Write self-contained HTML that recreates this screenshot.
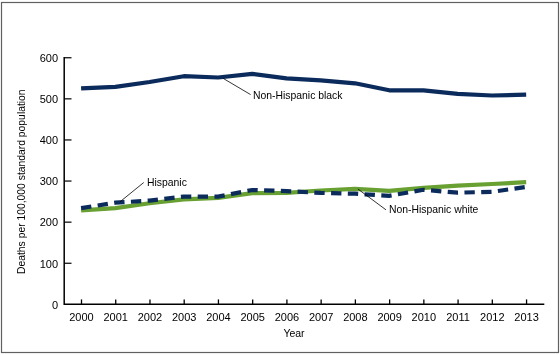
<!DOCTYPE html>
<html><head><meta charset="utf-8"><style>
html,body{margin:0;padding:0;background:#fff;width:560px;height:355px;overflow:hidden}
svg{display:block;will-change:transform}
text{font-family:"Liberation Sans",sans-serif}
</style></head><body>
<svg width="560" height="355" viewBox="0 0 560 355">
<rect x="1.5" y="2.5" width="557" height="350" fill="none" stroke="#606060" stroke-width="1.2"/>
<path d="M64.2,57.0 V304.35 H544.3" fill="none" stroke="#000" stroke-width="1.5"/>
<path d="M64.2,263.25 H71.5" stroke="#000" stroke-width="1.2"/>
<path d="M64.2,222.15 H71.5" stroke="#000" stroke-width="1.2"/>
<path d="M64.2,181.05 H71.5" stroke="#000" stroke-width="1.2"/>
<path d="M64.2,139.95 H71.5" stroke="#000" stroke-width="1.2"/>
<path d="M64.2,98.85 H71.5" stroke="#000" stroke-width="1.2"/>
<path d="M64.2,57.75 H71.5" stroke="#000" stroke-width="1.2"/>
<path d="M81.50,304.35 V299.4" stroke="#000" stroke-width="1.3"/>
<path d="M115.73,304.35 V299.4" stroke="#000" stroke-width="1.3"/>
<path d="M149.97,304.35 V299.4" stroke="#000" stroke-width="1.3"/>
<path d="M184.20,304.35 V299.4" stroke="#000" stroke-width="1.3"/>
<path d="M218.44,304.35 V299.4" stroke="#000" stroke-width="1.3"/>
<path d="M252.68,304.35 V299.4" stroke="#000" stroke-width="1.3"/>
<path d="M286.91,304.35 V299.4" stroke="#000" stroke-width="1.3"/>
<path d="M321.14,304.35 V299.4" stroke="#000" stroke-width="1.3"/>
<path d="M355.38,304.35 V299.4" stroke="#000" stroke-width="1.3"/>
<path d="M389.62,304.35 V299.4" stroke="#000" stroke-width="1.3"/>
<path d="M423.85,304.35 V299.4" stroke="#000" stroke-width="1.3"/>
<path d="M458.08,304.35 V299.4" stroke="#000" stroke-width="1.3"/>
<path d="M492.32,304.35 V299.4" stroke="#000" stroke-width="1.3"/>
<path d="M526.56,304.35 V299.4" stroke="#000" stroke-width="1.3"/>
<text x="58" y="308.65" text-anchor="end" font-size="11"  fill="#000">0</text>
<text x="58" y="267.55" text-anchor="end" font-size="11"  fill="#000">100</text>
<text x="58" y="226.45" text-anchor="end" font-size="11"  fill="#000">200</text>
<text x="58" y="185.35" text-anchor="end" font-size="11"  fill="#000">300</text>
<text x="58" y="144.25" text-anchor="end" font-size="11"  fill="#000">400</text>
<text x="58" y="103.15" text-anchor="end" font-size="11"  fill="#000">500</text>
<text x="58" y="62.05" text-anchor="end" font-size="11"  fill="#000">600</text>
<text x="81.50" y="321" text-anchor="middle" font-size="11"  fill="#000">2000</text>
<text x="115.73" y="321" text-anchor="middle" font-size="11"  fill="#000">2001</text>
<text x="149.97" y="321" text-anchor="middle" font-size="11"  fill="#000">2002</text>
<text x="184.20" y="321" text-anchor="middle" font-size="11"  fill="#000">2003</text>
<text x="218.44" y="321" text-anchor="middle" font-size="11"  fill="#000">2004</text>
<text x="252.68" y="321" text-anchor="middle" font-size="11"  fill="#000">2005</text>
<text x="286.91" y="321" text-anchor="middle" font-size="11"  fill="#000">2006</text>
<text x="321.14" y="321" text-anchor="middle" font-size="11"  fill="#000">2007</text>
<text x="355.38" y="321" text-anchor="middle" font-size="11"  fill="#000">2008</text>
<text x="389.62" y="321" text-anchor="middle" font-size="11"  fill="#000">2009</text>
<text x="423.85" y="321" text-anchor="middle" font-size="11"  fill="#000">2010</text>
<text x="458.08" y="321" text-anchor="middle" font-size="11"  fill="#000">2011</text>
<text x="492.32" y="321" text-anchor="middle" font-size="11"  fill="#000">2012</text>
<text x="526.56" y="321" text-anchor="middle" font-size="11"  fill="#000">2013</text>
<text x="294" y="336.7" text-anchor="middle" font-size="10.5"  fill="#000">Year</text>
<text transform="translate(25.4,181.7) rotate(-90)" x="0" y="0" text-anchor="middle" font-size="10.35"  fill="#000">Deaths per 100,000 standard population</text>
<polyline points="81.10,88.45 115.33,86.80 149.57,82.00 183.80,76.20 218.04,77.50 252.28,73.80 286.51,78.30 320.75,80.40 354.98,83.30 389.22,90.30 423.45,90.30 457.69,93.90 491.92,95.50 526.16,94.60" fill="none" stroke="#0b2b5c" stroke-width="4.2" stroke-linejoin="round"/>
<polyline points="81.10,210.40 115.33,208.20 149.57,203.25 183.80,199.40 218.04,197.80 252.28,193.20 286.51,192.90 320.75,190.50 354.98,188.90 389.22,190.90 423.45,187.90 457.69,185.55 491.92,184.00 526.16,182.20" fill="none" stroke="#68a032" stroke-width="4.2" stroke-linejoin="round"/>
<polyline points="81.10,208.15 115.33,202.70 149.57,200.60 183.80,196.60 218.04,196.60 252.28,190.00 286.51,191.10 320.75,192.90 354.98,193.70 389.22,195.80 423.45,189.80 457.69,192.70 491.92,191.80 526.16,187.00" fill="none" stroke="#0b2b5c" stroke-width="4.2" stroke-dasharray="10.35 6.41"/>
<path d="M223.2,78.4 L250.6,94.6" stroke="#000" stroke-width="0.8"/>
<path d="M143.75,182.5 L120,201.8" stroke="#000" stroke-width="0.8"/>
<path d="M357.9,189 L386,209.85" stroke="#000" stroke-width="0.8"/>
<text x="253" y="98.5" font-size="10.4"  fill="#000">Non-Hispanic black</text>
<text x="147" y="185.7" font-size="10.4"  fill="#000">Hispanic</text>
<text x="388.9" y="213.4" font-size="10.4"  fill="#000">Non-Hispanic white</text>
</svg>
</body></html>
